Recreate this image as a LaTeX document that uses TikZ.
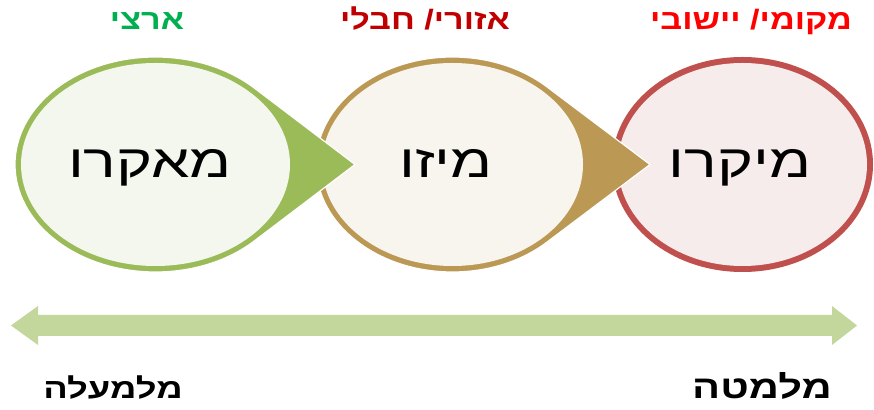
\documentclass[tikz,border=0pt]{standalone}
\usepackage{fontspec}
\newfontfamily\heb[Script=Hebrew]{Liberation Sans}
\TeXXeTstate=1
\definecolor{gring}{HTML}{9BBB59}
\definecolor{gin}{HTML}{F3F7EE}
\definecolor{tring}{HTML}{BB9954}
\definecolor{tin}{HTML}{F8F4EE}
\definecolor{rring}{HTML}{C0504D}
\definecolor{rin}{HTML}{F7ECEC}
\definecolor{barcol}{HTML}{C3D69B}
\definecolor{lblgreen}{HTML}{00B050}
\definecolor{lbldred}{HTML}{C00000}
\definecolor{lblred}{HTML}{FF0000}
% teardrop: #1 cx, #2 cy, #3 rx, #4 ry, #5 tip x, #6 ring colour, #7 inner colour, #8 ring width
\newcommand\tdrop[8]{%
  \pgfmathsetmacro\tdth{acos(#3/(#5-#1))}%
  \filldraw[fill=#6, draw=white, line width=1.2] (#1,#2) ++(\tdth:#3 and #4)
    arc[start angle=\tdth, end angle=360-\tdth, x radius=#3, y radius=#4] -- (#5,#2) -- cycle;
  \fill[#7] (#1,#2) ellipse[x radius=#3-#8, y radius=#4-#8];
}
\tikzset{
  bigtxt/.style={font=\heb\fontsize{46}{50}\selectfont, text=black, anchor=base, inner sep=0},
  toplbl/.style={font=\heb\bfseries\fontsize{28}{32}\selectfont, anchor=base, inner sep=0},
  botlbl/.style={font=\heb\bfseries\fontsize{#1}{34}\selectfont, text=black, anchor=base, inner sep=0}
}
\begin{document}
\begin{tikzpicture}[x=1pt,y=1pt]
\useasboundingbox (0,0) rectangle (874,409);
\fill[white] (0,0) rectangle (874,409);
% red (drawn first)
\fill[rring] (742.5,244.5) ellipse[x radius=130.5, y radius=107.5];
\fill[rin] (742.5,244.5) ellipse[x radius=124.5, y radius=101.5];
% tan
\tdrop{452.5}{244.5}{136.5}{107.5}{650}{tring}{tin}{6}
% green
\tdrop{155.5}{244.5}{140.5}{107.5}{355}{gring}{gin}{6}
% texts in shapes
\node[bigtxt] (macro) at (150,231) {\scalebox{1.33}[1]{\beginR מאקרו\endR}};
\node[bigtxt] (meso) at (446,231) {\scalebox{1.33}[1]{\beginR מיזו\endR}};
\node[bigtxt] (micro) at (740,231) {\scalebox{1.33}[1]{\beginR מיקרו\endR}};
% top labels
\node[toplbl, text=lblgreen] (national) at (147,379) {\scalebox{1.22}[1]{\beginR ארצי\endR}};
\node[toplbl, text=lbldred] (regional) at (425,379) {\scalebox{1.22}[1]{\beginR אזורי/ חבלי\endR}};
\node[toplbl, text=lblred] (local) at (751,379) {\scalebox{1.22}[1]{\beginR מקומי/ יישובי\endR}};
% double arrow
\fill[barcol] (11,83.5) -- (38,103) -- (38,94) -- (832,94) -- (832,103) -- (857,83.5)
  -- (832,64) -- (832,73) -- (38,73) -- (38,64) -- cycle;
% bottom labels
\node[botlbl=28] (topdown) at (113,11) {\scalebox{1.3}[1]{\beginR מלמעלה\endR}};
\node[botlbl=32] (bottomup) at (762,11) {\scalebox{1.3}[1]{\beginR מלמטה\endR}};
\end{tikzpicture}
\end{document}
